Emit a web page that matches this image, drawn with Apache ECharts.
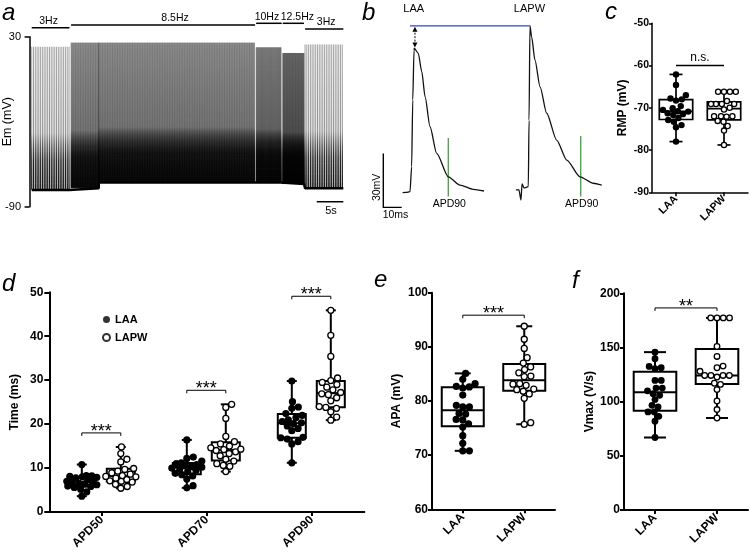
<!DOCTYPE html>
<html><head><meta charset="utf-8">
<script src="https://cdn.jsdelivr.net/npm/echarts@6/dist/echarts.min.js"></script>
<style>html,body{margin:0;padding:0;background:#fff}#c{width:750px;height:555px}</style>
</head><body><div id="c"></div>
<script>
// ================= DATA =================
// Panel a: pacing protocol segments [start s, end s, rate Hz, AP peak mV, resting mV]
const paceSegments = [
  [0.4, 7.5, 3, 22.9, -78.2],
  [7.8, 13.0, 8.5, 25.8, -77.0],
  [13.0, 42.4, 8.5, 25.8, -73.0],
  [42.6, 47.4, 10, 22.5, -73.0],
  [47.6, 51.6, 12.5, 18.5, -74.0],
  [51.8, 59.0, 3, 24.5, -77.0]
];
const stimLabels = ['3Hz', '8.5Hz', '10Hz', '12.5Hz', '3Hz'];
const stimStart = [0.4, 7.8, 42.6, 47.6, 51.8];
const stimEnd = [7.5, 42.4, 47.4, 51.6, 59.0];
const aTimeBar = [54, 59];          // 5 s scale bar
const aYTicks = [-90, 30];

// Panel b: action potentials (time ms, membrane potential mV)
const bLabels = ['LAA', 'LAPW'];
const laaTime = [12.3, 14.1, 16.3, 17.2, 17.8, 18.5, 18.6, 20.8, 22.7, 24.5, 27.2, 30.8, 37.1, 43.5, 50.7, 56.5];
const laaMv   = [-75.9, -75.8, -75.4, -61.5, -24.4, 3.3, 4.3, 1.5, -8.7, -22.6, -39.3, -54.1, -67.1, -71.7, -74.1, -75.0];
const lapwTime = [73.9, 75.5, 76.6, 77.2, 78.3, 80.6, 81.0, 81.5, 82.4, 84.2, 87.0, 90.6, 96.0, 101.5, 108.7, 115.9, 120.5];
const lapwMv   = [-74.4, -74.4, -80.0, -71.1, -73.3, -72.6, -35.6, 16.7, 10.7, -2.2, -17.1, -31.8, -46.7, -57.8, -67.1, -70.7, -71.8];
const apd90Time = [37.1, 109.1];
const bScale = [10, 30];            // 10 ms, 30 mV

// Panel c: RMP (mV)
const groups2 = ['LAA', 'LAPW'];
const rmpLAA  = [-62.1, -64.6, -67.0, -67.8, -68.0, -68.3, -69.6, -70.1, -70.5, -70.8, -70.9, -71.3, -71.5, -71.7, -72.4, -72.9, -73.3, -74.1, -74.6, -78.0];
const rmpLAPW = [-66.2, -66.2, -66.2, -66.2, -68.4, -69.1, -69.1, -69.1, -69.1, -70.0, -70.4, -72.0, -72.0, -72.0, -72.1, -73.1, -73.3, -74.3, -75.4, -78.8];

// Panel d: APD (ms)
const apdCats = ['APD50', 'APD70', 'APD90'];
const apd50LAA  = [3.6, 4.6, 5.2, 5.6, 5.8, 5.9, 6.2, 6.4, 6.6, 6.7, 6.8, 7.0, 7.4, 7.8, 7.9, 8.0, 8.1, 8.2, 8.3, 10.8];
const apd50LAPW = [5.4, 5.8, 6.3, 6.8, 7.0, 7.1, 7.4, 7.7, 8.0, 8.1, 8.3, 8.6, 8.9, 9.3, 9.7, 9.9, 11.4, 12.0, 13.3, 14.8];
const apd70LAA  = [5.5, 6.0, 7.5, 8.2, 8.5, 8.8, 9.2, 9.5, 9.8, 10.0, 10.2, 10.3, 10.5, 10.8, 11.0, 11.2, 11.6, 12.2, 12.5, 16.4];
const apd70LAPW = [9.2, 10.4, 10.6, 11.0, 11.6, 12.0, 12.8, 13.3, 13.7, 14.0, 14.2, 14.3, 14.6, 15.0, 15.5, 16.0, 17.2, 21.3, 23.8, 24.5];
const apd90LAA  = [11.2, 15.5, 16.0, 16.6, 16.9, 17.0, 18.5, 19.0, 19.6, 20.1, 20.3, 20.6, 21.0, 21.5, 22.0, 22.4, 23.6, 23.9, 25.1, 29.8];
const apd90LAPW = [20.9, 21.6, 22.8, 23.6, 23.8, 24.0, 25.3, 26.0, 26.7, 26.9, 27.2, 27.8, 28.4, 29.0, 29.5, 29.9, 30.5, 35.4, 40.2, 45.9];

// Panel e: APA (mV)
const apaLAA  = [70.8, 70.8, 72.2, 73.6, 75.2, 75.8, 76.5, 76.6, 77.6, 77.7, 78.9, 78.9, 79.2, 81.1, 82.4, 82.6, 82.7, 83.2, 84.0, 85.1];
const apaLAPW = [75.7, 76.0, 80.5, 81.3, 81.8, 82.1, 82.2, 82.9, 83.1, 83.2, 84.5, 84.6, 85.2, 85.8, 86.3, 87.0, 88.0, 89.7, 91.4, 93.8];

// Panel f: Vmax (V/s)
const vmaxLAA  = [66.9, 81.9, 86.5, 90.5, 90.5, 95.1, 96.6, 101.9, 105.8, 107.4, 110.0, 112.5, 112.5, 119.6, 119.6, 130.4, 131.3, 132.5, 139.6, 145.7];
const vmaxLAPW = [84.9, 92.7, 100.6, 111.1, 115.9, 117.0, 122.7, 124.2, 124.2, 124.2, 124.2, 128.0, 131.3, 132.8, 141.7, 150.9, 177.3, 177.3, 177.3, 177.3];

// significance labels
const sigC = 'n.s.';
const sigD = ['***', '***', '***'];
const sigE = '***';
const sigF = '**';

// ================= HELPERS =================
const FONT = '"Liberation Sans", Arial, Helvetica, sans-serif';

function quantile(sorted, p) {
  const n = sorted.length, pos = (n + 1) * p, lo = Math.floor(pos), fr = pos - lo;
  if (lo < 1) return sorted[0];
  if (lo >= n) return sorted[n - 1];
  return sorted[lo - 1] + fr * (sorted[lo] - sorted[lo - 1]);
}
function stats(v) {
  const s = v.slice().sort((a, b) => a - b);
  return [s[0], quantile(s, 0.25), quantile(s, 0.5), quantile(s, 0.75), s[s.length - 1]];
}
function swarm(pys, r, maxSpread) {
  const d = 2 * r * 0.92;
  const order = pys.map((y, i) => i).sort((a, b) => pys[b] - pys[a]);
  const placed = [], xs = new Array(pys.length);
  for (const i of order) {
    const y = pys[i];
    const near = placed.filter(p => Math.abs(p.y - y) < d);
    const cands = [0];
    near.forEach(p => { const dx = Math.sqrt(d * d - (p.y - y) * (p.y - y)); cands.push(p.x + dx + 0.01, p.x - dx - 0.01); });
    cands.sort((a, b) => Math.abs(a) - Math.abs(b));
    let best = null;
    for (const c of cands) {
      if (Math.abs(c) > maxSpread) continue;
      if (near.every(p => (p.x - c) * (p.x - c) + (p.y - y) * (p.y - y) >= d * d - 0.05)) { best = c; break; }
    }
    if (best === null) {
      let bs = -1;
      for (let c = -maxSpread; c <= maxSpread; c += 0.5) {
        let m = Infinity;
        near.forEach(p => { m = Math.min(m, Math.hypot(p.x - c, p.y - y)); });
        if (m > bs) { bs = m; best = c; }
      }
    }
    xs[i] = best; placed.push({ x: best, y });
  }
  return xs;
}
// box + swarm custom series
function boxSeries(axisIdx, groups, st) {
  return {
    type: 'custom', xAxisIndex: axisIdx, yAxisIndex: axisIdx, silent: true, clip: false, z: 5,
    data: groups.map((g, i) => [g.cat, i]),
    renderItem(params, api) {
      const g = groups[params.dataIndex];
      const cx = api.coord([g.cat, 0])[0] + g.off;
      const s = stats(g.values);
      const py = v => api.coord([g.cat, v])[1];
      const yMin = py(s[0]), yQ1 = py(s[1]), yMed = py(s[2]), yQ3 = py(s[3]), yMax = py(s[4]);
      const lw = st.lw, ls = { stroke: '#000', lineWidth: lw };
      const ch = [
        { type: 'line', shape: { x1: cx, y1: yMax, x2: cx, y2: yMin }, style: ls },
        { type: 'line', shape: { x1: cx - st.cap, y1: yMax, x2: cx + st.cap, y2: yMax }, style: ls },
        { type: 'line', shape: { x1: cx - st.cap, y1: yMin, x2: cx + st.cap, y2: yMin }, style: ls },
        { type: 'rect', shape: { x: cx - st.hw, y: yQ3, width: 2 * st.hw, height: yQ1 - yQ3 }, style: { fill: '#fff', stroke: '#000', lineWidth: lw } },
        { type: 'line', shape: { x1: cx - st.hw, y1: yMed, x2: cx + st.hw, y2: yMed }, style: ls }
      ];
      const pys = g.values.map(py);
      const xs = swarm(pys, st.r, st.spread);
      pys.forEach((y, i) => {
        ch.push({ type: 'circle', shape: { cx: cx + xs[i], cy: y, r: g.filled ? st.r : st.r - 0.6 },
          style: g.filled ? { fill: '#000' } : { fill: '#fff', stroke: '#000', lineWidth: 1.3 } });
      });
      return { type: 'group', children: ch };
    }
  };
}
// significance bracket
function bracketSeries(axisIdx, items, st) {
  return {
    type: 'custom', xAxisIndex: axisIdx, yAxisIndex: axisIdx, silent: true, clip: false, z: 6,
    data: items.map((it, i) => [it.c0, i]),
    renderItem(params, api) {
      const it = items[params.dataIndex];
      const x0 = api.coord([it.c0, 0])[0] + it.o0, x1 = api.coord([it.c1, 0])[0] + it.o1;
      const y = api.coord([it.c0, it.v])[1];
      const ls = { stroke: '#000', lineWidth: st.lw, fill: null };
      return { type: 'group', children: [
        { type: 'polyline', shape: { points: [[x0, y + st.tick], [x0, y], [x1, y], [x1, y + st.tick]] }, style: ls },
        { type: 'text', x: (x0 + x1) / 2, y: y + st.dy, style: { text: it.text, align: 'center', verticalAlign: 'bottom', fontSize: st.fs, fontFamily: FONT, fill: '#000' } }
      ] };
    }
  };
}

// ---- panel a spikes built from the pacing segments, AP shape taken from panel b LAA trace
const laaPeakIdx = laaMv.indexOf(Math.max(...laaMv));
const lapwPeakIdx = lapwMv.indexOf(Math.max(...lapwMv));
const laaRest = laaMv[2];
const apShape = [];
for (let i = 2; i < laaTime.length; i++) apShape.push([(laaTime[i] - laaTime[2]) / 1000, (laaMv[i] - laaRest) / (laaMv[laaPeakIdx] - laaRest)]);
const spikes = [];
const baseA = [];
paceSegments.forEach(([t0, t1, f, pk, rest], si) => {
  for (let t = t0; t < t1; t += 1 / f) spikes.push([t, si]);
  baseA.push([t0, rest], [t1, rest]);
});
const spikeGrad = new echarts.graphic.LinearGradient(0, 0, 0, 1, [
  { offset: 0, color: 'rgba(0,0,0,0.24)' }, { offset: 0.6, color: 'rgba(0,0,0,0.3)' },
  { offset: 0.78, color: 'rgba(0,0,0,0.8)' }, { offset: 1, color: 'rgba(0,0,0,1)' }]);

// ================= CHART =================
const chart = echarts.init(document.getElementById('c'), null, { renderer: 'canvas', width: 750, height: 555 });
const blk = '#000';
const yAxisCommon = (w, fs, tickLen, margin) => ({
  type: 'value', splitLine: { show: false },
  axisLine: { show: true, lineStyle: { color: blk, width: w } },
  axisTick: { show: true, length: tickLen, lineStyle: { color: blk, width: w } },
  axisLabel: { color: blk, fontSize: fs, fontWeight: 'bold', fontFamily: FONT, margin: margin },
  nameLocation: 'middle', nameRotate: 90, nameMoveOverlap: false,
  nameTextStyle: { color: blk, fontWeight: 'bold', fontFamily: FONT }
});
const xCatCommon = (data, w, fs, margin) => ({
  type: 'category', data: data, boundaryGap: true,
  axisLine: { show: true, lineStyle: { color: blk, width: w } },
  axisTick: { show: true, alignWithLabel: true, length: 4, lineStyle: { color: blk, width: w } },
  axisLabel: { color: blk, fontSize: fs, fontWeight: 'bold', fontFamily: FONT, rotate: 45, margin: margin, interval: 0 },
  splitLine: { show: false }
});

const option = {
  animation: false,
  textStyle: { fontFamily: FONT },
  grid: [
    { left: 28, top: 36.7, width: 318, height: 170, outerBoundsMode: 'none' },   // a
    { left: 380, top: 20, width: 230, height: 216, outerBoundsMode: 'none' },    // b
    { left: 652, top: 23.3, width: 96, height: 169, outerBoundsMode: 'none' },   // c
    { left: 49.3, top: 292.3, width: 315, height: 219.7, outerBoundsMode: 'none' }, // d
    { left: 432, top: 292.7, width: 123, height: 216.6, outerBoundsMode: 'none' },  // e
    { left: 624, top: 293.3, width: 124, height: 216.7, outerBoundsMode: 'none' }   // f
  ],
  xAxis: [
    { gridIndex: 0, type: 'value', min: -0.3, max: 59.5, show: false },
    { gridIndex: 1, type: 'value', min: 0, max: 125, show: false },
    Object.assign({ gridIndex: 2 }, xCatCommon(groups2, 1.5, 10.5, 5)),
    Object.assign({ gridIndex: 3 }, xCatCommon(apdCats, 2, 12, 6)),
    Object.assign({ gridIndex: 4 }, xCatCommon(groups2, 2, 12, 6)),
    Object.assign({ gridIndex: 5 }, xCatCommon(groups2, 2, 12, 6))
  ],
  yAxis: [
    { gridIndex: 0, type: 'value', min: -90, max: 30, splitLine: { show: false },
      axisLine: { show: true, lineStyle: { color: blk, width: 1.5 } },
      axisTick: { show: true, length: 5, customValues: aYTicks, lineStyle: { color: blk, width: 1.5 } },
      axisLabel: { customValues: aYTicks, color: blk, fontSize: 11, fontFamily: FONT, margin: 7 },
      name: 'Em (mV)', nameLocation: 'middle', nameRotate: 90, nameGap: 14, nameMoveOverlap: false,
      nameTextStyle: { color: blk, fontSize: 12.5, fontFamily: FONT } },
    { gridIndex: 1, type: 'value', min: -100, max: 20, show: false },
    Object.assign({ gridIndex: 2, min: -90, max: -50, interval: 10, name: 'RMP (mV)', nameGap: 23 }, yAxisCommon(1.5, 10.5, 3, 3)),
    Object.assign({ gridIndex: 3, min: 0, max: 50, interval: 10, name: 'Time (ms)', nameGap: 29 }, yAxisCommon(2, 12, 5, 6)),
    Object.assign({ gridIndex: 4, min: 60, max: 100, interval: 10, name: 'APA (mV)', nameGap: 29 }, yAxisCommon(2, 12, 4, 4)),
    Object.assign({ gridIndex: 5, min: 0, max: 200, interval: 50, name: 'Vmax (V/s)', nameGap: 28 }, yAxisCommon(2, 12, 4, 4))
  ],
  legend: {
    data: [{ name: 'LAA', icon: 'circle' }, { name: 'LAPW', icon: 'circle' }],
    orient: 'vertical', left: 97, top: 309, itemWidth: 7, itemHeight: 7, itemGap: 7,
    textStyle: { color: blk, fontWeight: 'bold', fontSize: 11, fontFamily: FONT }, selectedMode: false
  },
  graphic: ['a', 'b', 'c', 'd', 'e', 'f'].map((t, i) => {
    const pos = [[2, 20], [362, 20], [605, 19], [2, 291], [374, 287], [572, 288]][i];
    return { type: 'text', x: pos[0], y: pos[1] - 6.5, silent: true,
      style: { text: t, fontSize: 24, fontStyle: 'italic', fontFamily: FONT, fill: blk, verticalAlign: 'middle' } };
  }),
  series: [
    // ---- panel a
    { type: 'line', xAxisIndex: 0, yAxisIndex: 0, data: baseA, symbol: 'none', silent: true,
      lineStyle: { width: 2.5, color: '#000' } },
    { type: 'custom', xAxisIndex: 0, yAxisIndex: 0, silent: true, data: spikes,
      renderItem(params, api) {
        const sp = spikes[params.dataIndex], seg = paceSegments[sp[1]];
        const pk = seg[3], rest = seg[4];
        const pts = apShape.map(([dt, fr]) => api.coord([sp[0] + dt, rest + fr * (pk - rest)]));
        return { type: 'polyline', shape: { points: pts }, style: { stroke: spikeGrad, lineWidth: 0.8, fill: null, lineJoin: 'bevel' } };
      } },
    { type: 'custom', xAxisIndex: 0, yAxisIndex: 0, silent: true, clip: false,
      data: stimLabels.map((l, i) => [stimStart[i], stimEnd[i]]),
      renderItem(params, api) {
        const i = params.dataIndex, barY = [27.7, 25, 23.3, 23.3, 29][i], dx = [-2, 12, -2, 4, 2][i];
        const x0 = api.coord([stimStart[i], 0])[0], x1 = api.coord([stimEnd[i], 0])[0];
        return { type: 'group', children: [
          { type: 'line', shape: { x1: x0, y1: barY, x2: x1, y2: barY }, style: { stroke: blk, lineWidth: 1.5 } },
          { type: 'text', x: (x0 + x1) / 2 + dx, y: barY - 1, style: { text: stimLabels[i], align: 'center', verticalAlign: 'bottom', fontSize: 10.5, fontFamily: FONT, fill: blk } }
        ] };
      } },
    { type: 'custom', xAxisIndex: 0, yAxisIndex: 0, silent: true, clip: false,
      data: [[aTimeBar[0], aTimeBar[1]]],
      renderItem(params, api) {
        const p0 = api.coord([aTimeBar[0], -86.5]), p1 = api.coord([aTimeBar[1], -86.5]);
        return { type: 'group', children: [
          { type: 'line', shape: { x1: p0[0], y1: p0[1], x2: p1[0], y2: p1[1] }, style: { stroke: blk, lineWidth: 1.5 } },
          { type: 'text', x: (p0[0] + p1[0]) / 2 + 1, y: p0[1] + 4, style: { text: (aTimeBar[1] - aTimeBar[0]) + 's', align: 'center', verticalAlign: 'top', fontSize: 11, fontFamily: FONT, fill: blk } }
        ] };
      } },
    // ---- panel b
    { type: 'custom', xAxisIndex: 1, yAxisIndex: 1, silent: true, clip: false,
      data: [[laaTime[laaPeakIdx], 0], [lapwTime[lapwPeakIdx], 1]],
      renderItem(params, api) {
        const i = params.dataIndex;
        const x = api.coord([[laaTime[laaPeakIdx], lapwTime[lapwPeakIdx]][i], 0])[0];
        return { type: 'text', x: x - 0.5, y: 9, style: { text: bLabels[i], align: 'center', verticalAlign: 'middle', fontSize: 11, fontFamily: FONT, fill: blk } };
      } },
    { type: 'line', xAxisIndex: 1, yAxisIndex: 1, symbol: 'none', silent: true,
      data: [[laaTime[laaPeakIdx] - 2.3, lapwMv[lapwPeakIdx]], [lapwTime[lapwPeakIdx], lapwMv[lapwPeakIdx]]],
      lineStyle: { color: '#3347c2', width: 1.2 } },
    { type: 'line', xAxisIndex: 1, yAxisIndex: 1, data: laaTime.map((t, i) => [t, laaMv[i]]), symbol: 'none', silent: true,
      smooth: 0.25, smoothMonotone: 'x', lineStyle: { color: '#111', width: 1.3 } },
    { type: 'line', xAxisIndex: 1, yAxisIndex: 1, data: lapwTime.map((t, i) => [t, lapwMv[i]]), symbol: 'none', silent: true,
      smooth: 0.25, smoothMonotone: 'x', lineStyle: { color: '#111', width: 1.3 } },
    { type: 'line', xAxisIndex: 1, yAxisIndex: 1, silent: true, showSymbol: true,
      data: [
        { value: [laaTime[laaPeakIdx] + 0.4, lapwMv[lapwPeakIdx] - 1.8], symbol: 'triangle', symbolSize: [5, 5] },
        { value: [laaTime[laaPeakIdx] + 0.4, laaMv[laaPeakIdx] + 1.8], symbol: 'triangle', symbolSize: [5, 5], symbolRotate: 180 }
      ],
      itemStyle: { color: '#000' },
      lineStyle: { color: '#000', width: 1, type: [2, 1.5] } },
    { type: 'custom', xAxisIndex: 1, yAxisIndex: 1, silent: true, clip: false,
      data: apd90Time.map((t, i) => [t, i]),
      renderItem(params, api) {
        const t = apd90Time[params.dataIndex];
        const top = [-45.6, -44.4][params.dataIndex];
        const p0 = api.coord([t, top]), p1 = api.coord([t, -78]);
        return { type: 'group', children: [
          { type: 'line', shape: { x1: p0[0], y1: p0[1], x2: p1[0], y2: p1[1] }, style: { stroke: '#2e9a2e', lineWidth: 1.2 } },
          { type: 'text', x: p1[0] + 1, y: p1[1] + 2, style: { text: 'APD90', align: 'center', verticalAlign: 'top', fontSize: 10.5, fontFamily: FONT, fill: blk } }
        ] };
      } },
    { type: 'custom', xAxisIndex: 1, yAxisIndex: 1, silent: true, clip: false,
      data: [[1.8, -84.1]],
      renderItem(params, api) {
        const o = api.coord([1.8, -84.1]), tx = api.coord([1.8 + bScale[0], -84.1]), ty = api.coord([1.8, -84.1 + bScale[1]]);
        return { type: 'group', children: [
          { type: 'polyline', shape: { points: [ty, o, tx] }, style: { stroke: blk, lineWidth: 1.4, fill: null } },
          { type: 'text', x: (o[0] + tx[0]) / 2 + 3, y: o[1] + 2, style: { text: bScale[0] + 'ms', align: 'center', verticalAlign: 'top', fontSize: 10.5, fontFamily: FONT, fill: blk } },
          { type: 'text', x: o[0] - 6.5, y: o[1] - 20, rotation: Math.PI / 2, style: { text: bScale[1] + 'mV', align: 'center', verticalAlign: 'middle', fontSize: 10.5, fontFamily: FONT, fill: blk } }
        ] };
      } },
    // ---- panel c
    boxSeries(2, [
      { cat: 0, off: 0, values: rmpLAA, filled: true },
      { cat: 1, off: 0, values: rmpLAPW, filled: false }
    ], { lw: 1.7, hw: 16.7, cap: 6.5, r: 3.2, spread: 13 }),
    bracketSeries(2, [{ c0: 0, o0: 0, c1: 1, o1: 0, v: -60, text: sigC }], { lw: 1.5, tick: 0, dy: -2, fs: 12 }),
    // ---- panel d
    boxSeries(3, [
      { cat: 0, off: -20, values: apd50LAA, filled: true }, { cat: 0, off: 19, values: apd50LAPW, filled: false },
      { cat: 1, off: -20, values: apd70LAA, filled: true }, { cat: 1, off: 19, values: apd70LAPW, filled: false },
      { cat: 2, off: -20, values: apd90LAA, filled: true }, { cat: 2, off: 19, values: apd90LAPW, filled: false }
    ], { lw: 2, hw: 14, cap: 5, r: 3.6, spread: 15 }),
    bracketSeries(3, [
      { c0: 0, o0: -20, c1: 0, o1: 19, v: 18.0, text: sigD[0] },
      { c0: 1, o0: -20, c1: 1, o1: 19, v: 27.7, text: sigD[1] },
      { c0: 2, o0: -20, c1: 2, o1: 19, v: 49.1, text: sigD[2] }
    ], { lw: 1, tick: 3, dy: 8, fs: 18 }),
    { type: 'scatter', name: 'LAA', xAxisIndex: 3, yAxisIndex: 3, data: [], itemStyle: { color: '#000' } },
    { type: 'scatter', name: 'LAPW', xAxisIndex: 3, yAxisIndex: 3, data: [], itemStyle: { color: '#fff', borderColor: '#000', borderWidth: 1.3 } },
    // ---- panel e
    boxSeries(4, [
      { cat: 0, off: 0, values: apaLAA, filled: true },
      { cat: 1, off: 0, values: apaLAPW, filled: false }
    ], { lw: 2, hw: 21, cap: 8, r: 3.6, spread: 16 }),
    bracketSeries(4, [{ c0: 0, o0: 0, c1: 1, o1: 0, v: 95.85, text: sigE }], { lw: 1, tick: 3, dy: 8, fs: 18 }),
    // ---- panel f
    boxSeries(5, [
      { cat: 0, off: 0, values: vmaxLAA, filled: true },
      { cat: 1, off: 0, values: vmaxLAPW, filled: false }
    ], { lw: 2, hw: 21.3, cap: 11, r: 3.4, spread: 17 }),
    bracketSeries(5, [{ c0: 0, o0: 0, c1: 1, o1: 0, v: 186.5, text: sigF }], { lw: 1, tick: 3, dy: 8, fs: 18 })
  ]
};
chart.setOption(option);
</script></body></html>
